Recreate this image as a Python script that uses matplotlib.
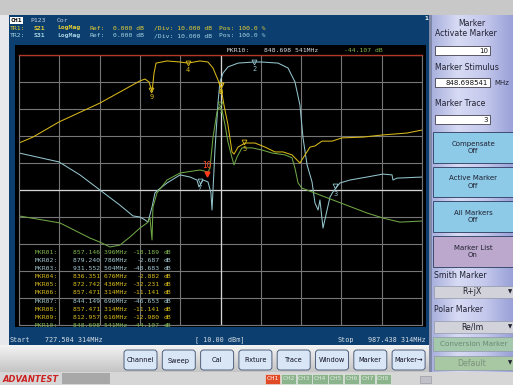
import matplotlib.pyplot as plt
import numpy as np
from matplotlib.patches import Rectangle, FancyBboxPatch
from matplotlib.colors import LinearSegmentedColormap

# sweep settings
start_mhz = 727.504314
stop_mhz = 987.438314

# TR1 (S21, yellow)
tr1_freq = [727.5, 736.5, 753.3, 779.7, 805.5, 808.8, 811.4, 813.3, 814.6, 815.9,
            823.0, 831.4, 836.5, 844.2, 849.4, 852.6, 855.9, 857.8, 859.7, 862.3,
            864.9, 866.2, 868.8, 873.3, 879.7, 886.2, 892.6, 897.8, 903.6, 908.7,
            912.0, 915.2, 918.4, 922.9, 929.4, 935.8, 949.4, 962.3, 977.8, 987.4]
tr1_db = [-32.6, -30.4, -24.8, -17.8, -9.6, -8.9, -10.0, -13.7, -6.7, -3.0,
          -2.2, -2.6, -3.0, -2.2, -2.6, -4.8, -9.3, -12.2, -18.5, -25.9,
          -35.9, -36.7, -34.1, -32.6, -32.6, -34.1, -35.9, -35.9, -37.0, -40.0,
          -37.0, -34.1, -33.7, -31.9, -31.9, -30.7, -30.4, -29.6, -28.9, -27.8]

# TR2 (S31, cyan)
tr2_freq = [727.5, 753.3, 766.8, 779.7, 792.6, 801.0, 805.5, 808.8, 810.7, 813.3,
            815.2, 817.2, 823.0, 831.4, 837.8, 842.3, 843.6, 846.2, 849.4, 851.3,
            852.0, 853.9, 855.9, 857.1, 859.1, 862.3, 868.8, 879.1, 884.2, 894.6,
            901.0, 905.5, 908.7, 910.7, 913.3, 916.5, 918.4, 920.4, 921.6, 923.6,
            926.2, 928.1, 930.0, 934.5, 941.0, 951.9, 962.3, 968.1, 968.7, 971.3,
            987.4]
tr2_db = [-36.3, -39.6, -44.4, -50.0, -55.6, -59.6, -60.0, -61.1, -61.9, -56.3,
          -51.1, -50.0, -47.4, -44.4, -45.2, -46.3, -48.9, -46.3, -47.0, -51.1,
          -57.4, -35.2, -17.4, -10.0, -6.7, -4.4, -3.0, -2.6, -2.6, -3.0,
          -4.8, -10.0, -18.5, -30.7, -40.7, -47.0, -54.8, -57.4, -53.7, -64.1,
          -57.4, -52.6, -50.7, -47.4, -46.3, -45.2, -44.1, -44.4, -46.3, -45.6,
          -45.2]

# TR3 (green)
tr3_freq = [727.5, 753.9, 773.3, 779.7, 786.2, 792.6, 799.1, 805.5, 810.1, 812.0,
            813.3, 813.9, 816.5, 823.0, 831.4, 844.2, 849.4, 850.7, 852.6, 855.2,
            856.5, 858.4, 860.4, 862.3, 864.9, 866.2, 868.1, 871.3, 877.8, 884.2,
            890.7, 899.1, 903.6, 905.5, 907.5, 910.0, 930.0, 951.9, 962.3, 973.2,
            987.4]
tr3_db = [-59.6, -62.2, -67.8, -69.3, -71.1, -70.4, -67.4, -64.1, -62.2, -60.4,
          -68.5, -56.3, -51.1, -46.3, -43.7, -42.6, -43.3, -41.9, -30.7, -21.1,
          -19.3, -20.4, -25.9, -32.2, -38.1, -40.7, -37.8, -34.4, -34.4, -35.2,
          -36.3, -37.0, -38.1, -41.9, -47.4, -49.3, -53.7, -58.5, -60.4, -61.9,
          -61.5]

# markers
mkr_freq = [857.146396, 879.240786, 931.552504, 836.351676, 872.742436,
            857.471314, 844.149696, 857.471314, 812.957616, 848.698541]
mkr_db = [-18.189, -2.687, -48.683, -2.882, -32.231,
          -11.141, -46.653, -11.141, -12.980, -44.107]
mkr_trace = [3, 2, 2, 1, 1, 1, 2, 1, 1, 3]
active_mkr = 10

trace_col = {1: '#d8b818', 2: '#92c4cc', 3: '#6ea646'}
list_col = {1: '#d8bc1c', 2: '#a2c8d2', 3: '#80b850'}

mono = 'DejaVu Sans Mono'
sans = 'DejaVu Sans'

fig = plt.figure(figsize=(5.13, 3.85), dpi=100)
fig.patch.set_facecolor('#e4e4e4')
ui = fig.add_axes([0, 0, 1, 1])
ui.axis('off')


def box(x0, y0, x1, y1, color, ec='none', lw=0.6, z=1):
    ui.add_patch(Rectangle((x0, y0), x1 - x0, y1 - y0, facecolor=color,
                           edgecolor=ec, lw=lw, zorder=z))


def grad(x0, y0, x1, y1, colors, horizontal=True, z=0.5):
    cm = LinearSegmentedColormap.from_list('g', colors)
    g = np.linspace(0, 1, 64)
    img = g[np.newaxis, :] if horizontal else g[:, np.newaxis]
    ui.imshow(img, cmap=cm, extent=(x0, x1, y1, y0), aspect='auto', zorder=z,
              interpolation='bilinear')


def t(x, y, s, c, size=4.6, fam=mono, **kw):
    ui.text(x, y, s, color=c, fontsize=size, family=fam, va='center', zorder=5, **kw)


def mhz(f):
    s = f'{f:.6f}'
    return s[:-3] + ' ' + s[-3:] + 'MHz'


# window chrome
box(0, 0, 513, 15, '#c8c8c8')
box(0, 15, 9, 345, '#e6e8ec')
box(9, 15, 430, 345, '#0c3f70')
box(15, 45, 426, 327, 'black')
grad(0, 345, 432, 372, ['#f4f4f4', '#c4c4c4'], horizontal=False)
box(0, 372, 513, 385, '#d6d6d6')

# header
box(10, 16.5, 22.5, 23.5, 'white', z=2)
t(10.5, 20, 'CH1', 'black', weight='bold')
t(30, 20, 'P123', '#c8d0dc')
t(57, 20, 'Cor', '#c8d0dc')
for row, (tr, sp, col) in enumerate([('TR1:', 'S21', '#e8d030'), ('TR2:', 'S31', '#a8d4e4')]):
    yy = 28 + row * 7.5
    t(10, yy, tr, col)
    t(34, yy, sp, col, weight='bold')
    t(57, yy, 'LogMag', col, weight='bold')
    t(90, yy, 'Ref:', col)
    t(113, yy, '0.000 dB', col)
    t(154, yy, '/Div: 10.000 dB', col)
    t(219, yy, 'Pos: 100.0 %', col)
t(424, 18, '1', 'white', weight='bold')

# status line
t(10, 340, 'Start', '#d8dee6', 4.9)
t(45, 340, mhz(start_mhz), '#d8dee6', 4.9)
t(195, 340, '[ 10.00 dBm]', '#d8dee6', 4.9)
t(338, 340, 'Stop', '#d8dee6', 4.9)
t(368, 340, mhz(stop_mhz), '#d8dee6', 4.9)

# right panel
grad(430, 15, 513, 372, ['#a6aedc', '#d8dbf4', '#c4c8ec', '#9aa2d8'])
box(429, 15, 431.5, 372, '#8088a8', z=1)
t(472, 23, 'Marker', '#202030', 5.6, sans, ha='center')
t(435, 34, 'Activate Marker', '#202030', 5.6, sans)
t(435, 68, 'Marker Stimulus', '#202030', 5.6, sans)
t(435, 103, 'Marker Trace', '#202030', 5.6, sans)
for (y0, val) in [(46, '10'), (78, '848.698541'), (115, '3')]:
    box(435, y0, 490, y0 + 9, 'white', ec='#404050', lw=0.6, z=2)
    t(488, y0 + 4.6, val, '#101010', 5.0, sans, ha='right')
t(494, 83, 'MHz', '#202030', 5.0, sans)
for (y0, y1, l1, l2, fc) in [(132, 163, 'Compensate', 'Off', '#8ccae8'),
                             (167, 197, 'Active Marker', 'Off', '#8ccae8'),
                             (201, 232, 'All Markers', 'Off', '#8ccae8'),
                             (236, 267, 'Marker List', 'On', '#bca8cc')]:
    box(433, y0, 513, y1, fc, ec='#3c4c70', lw=0.7, z=2)
    t(473, (y0 + y1) / 2 - 3.8, l1, '#202030', 5.0, sans, ha='center')
    t(473, (y0 + y1) / 2 + 3.8, l2, '#202030', 5.0, sans, ha='center')
t(434, 275, 'Smith Marker', '#202030', 5.6, sans)
t(434, 309, 'Polar Marker', '#202030', 5.6, sans)
for (y0, y1, lab, fc, tc) in [(286, 298, 'R+jX', '#d2d2da', '#202030'),
                              (321, 333, 'Re/Im', '#d2d2da', '#202030'),
                              (356, 370, 'Default', '#a8c8a4', '#7a907a')]:
    box(434, y0, 513, y1, fc, ec='#9098a8', lw=0.5, z=2)
    t(472, (y0 + y1) / 2, lab, tc, 5.6, sans, ha='center')
    t(510, (y0 + y1) / 2, '\u25bc', '#202030', 4, sans, ha='center')
box(433, 337, 513, 351, '#a4c8ac', ec='#9098a8', lw=0.5, z=2)
t(474, 344, 'Conversion Marker', '#6c8a72', 5.2, sans, ha='center', clip_on=True)

# soft-key buttons
for i, lab in enumerate(['Channel', 'Sweep', 'Cal', 'Fixture', 'Trace', 'Window',
                         'Marker', 'Marker\u2192']):
    x0 = 124 + i * 38.3
    ui.add_patch(FancyBboxPatch((x0, 350), 33, 20, boxstyle='round,pad=0,rounding_size=3',
                                facecolor='#d8e6f6', edgecolor='#50607c', lw=0.7, zorder=2))
    t(x0 + 16.5, 360.5, lab, '#101020', 4.8, sans, ha='center')

# bottom strip
ui.text(3, 379, 'ADVANTEST', color='#cc2222', fontsize=6, family=sans,
        weight='bold', style='italic', va='center', zorder=5)
box(62, 373, 110, 384, '#a8a8a8')
for i in range(8):
    x0 = 265 + i * 15.8
    box(x0, 373.5, x0 + 15.2, 383.5, '#e04a24' if i == 0 else '#8cb48c',
        ec='#f0f0f0', lw=0.4, z=2)
    t(x0 + 7.6, 378.7, f'CH{i + 1}', 'white' if i == 0 else '#e0ece0', 4.2, sans,
      ha='center')
box(420, 376, 431, 383, '#c0c0c8', ec='#909098', lw=0.4, z=2)

ui.set_xlim(0, 513)
ui.set_ylim(385, 0)

# measurement grid
ax = fig.add_axes([19 / 513, 60 / 385, 403 / 513, 270 / 385])
ax.set_facecolor('none')
ax.set_xlim(start_mhz, stop_mhz)
ax.set_ylim(-100, 0)
ax.set_xticks(np.linspace(start_mhz, stop_mhz, 11))
ax.set_yticks(np.arange(-100, 1, 10))
ax.grid(color='#767676', lw=0.8)
ax.tick_params(length=0, labelbottom=False, labelleft=False)
for s in ax.spines.values():
    s.set_color('#767676')
    s.set_linewidth(0.8)
ax.spines['top'].set_color('#b03828')
ax.spines['top'].set_linewidth(1.0)
ax.axvline((start_mhz + stop_mhz) / 2, color='#d4d4d4', lw=0.9)
ax.axhline(-50, color='#d4d4d4', lw=0.9)

for tr, fr, db in [(2, tr2_freq, tr2_db), (3, tr3_freq, tr3_db), (1, tr1_freq, tr1_db)]:
    ax.plot(fr, db, color=trace_col[tr], lw=0.75)

for i, (f, d, tr) in enumerate(zip(mkr_freq, mkr_db, mkr_trace)):
    n = i + 1
    if n == active_mkr:
        ax.plot(f, d, marker='v', ms=3.5, color='#ff3a1a', mec='#ff3a1a', ls='none')
        ax.annotate(str(n), (f, d), xytext=(0, 3), textcoords='offset points',
                    color='#ff4a24', fontsize=5.5, family=mono, ha='center', va='bottom')
    else:
        ax.plot(f, d, marker='v', ms=3.5, mfc='none', mec=trace_col[tr], mew=0.6,
                ls='none')
        ax.annotate(str(n), (f, d), xytext=(0, -3), textcoords='offset points',
                    color=trace_col[tr], fontsize=5, family=mono, ha='center', va='top')

# active marker readout
kw0 = dict(fontsize=4.6, family=mono, va='center', transform=ui.transData, clip_on=False)
ax.text(227, 50, f'MKR{active_mkr:02d}:', color='#d8dce4', **kw0)
ax.text(264, 50, mhz(mkr_freq[active_mkr - 1]), color='#d8dce4', **kw0)
ax.text(383, 50, f'{mkr_db[active_mkr - 1]:.3f} dB', color=list_col[3], ha='right', **kw0)

# marker list
for i, (f, d, tr) in enumerate(zip(mkr_freq, mkr_db, mkr_trace)):
    yy = 252 + i * 8.2
    kw = dict(kw0, color=list_col[tr])
    ax.text(35, yy, f'MKR{i + 1:02d}:', **kw)
    ax.text(73, yy, mhz(f), **kw)
    ax.text(160, yy, f'{d:.3f}', ha='right', **kw)
    ax.text(164, yy, 'dB', **kw)

fig.savefig('out.png', dpi=100)
